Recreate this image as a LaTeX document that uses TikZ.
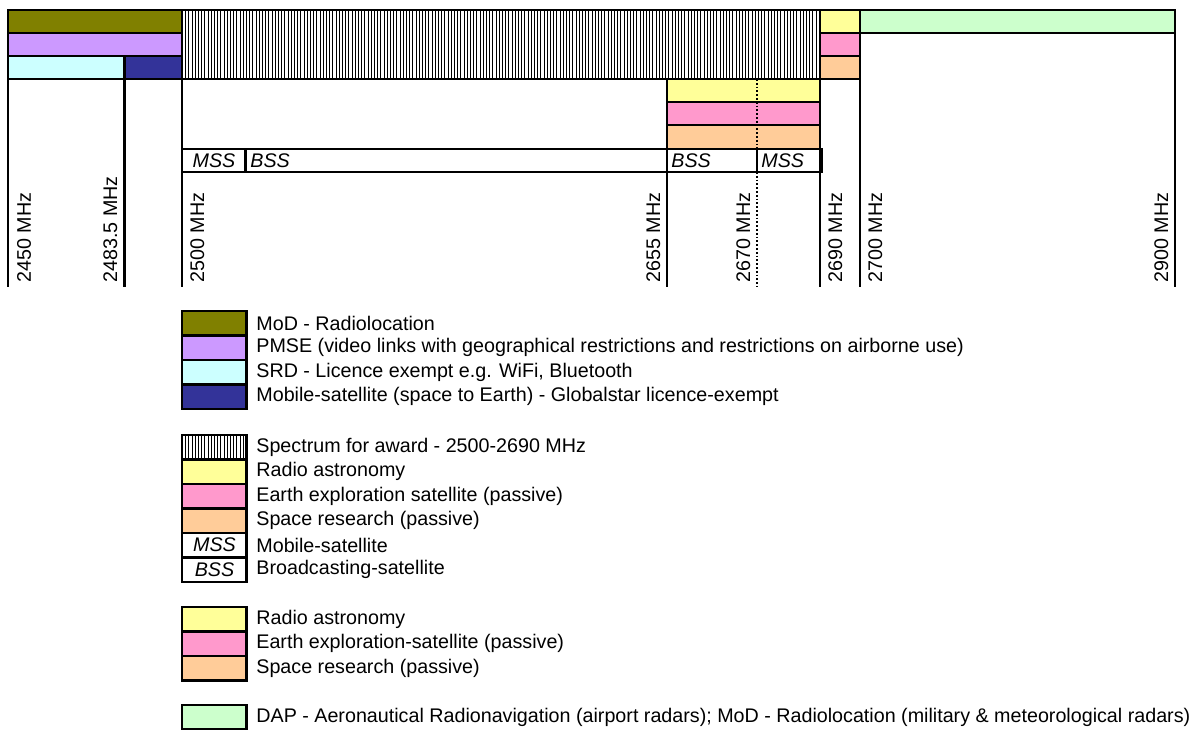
\documentclass[tikz,border=0pt]{standalone}
\usepackage{fontspec}
\setmainfont{Liberation Sans}
\usetikzlibrary{patterns.meta}
\definecolor{modolive}{HTML}{808000}
\definecolor{pmsepurple}{HTML}{CC99FF}
\definecolor{srdcyan}{HTML}{CCFFFF}
\definecolor{mssblue}{HTML}{333399}
\definecolor{rayellow}{HTML}{FFFF99}
\definecolor{eespink}{HTML}{FF99CC}
\definecolor{srorange}{HTML}{FFCC99}
\definecolor{dapgreen}{HTML}{CCFFCC}
\tikzset{
	band/.style    = {draw, line width=1.4pt},
	award/.style   = {band, pattern={Lines[angle=90,distance=1.6pt,line width=0.5pt]}},
	fine/.style    = {draw, line width=0.9pt},
	freq/.style    = {rotate=90, anchor=base west, inner sep=0pt,
		font=\fontsize{9.85}{11}\selectfont},
	legtext/.style = {anchor=west, inner sep=0pt, font=\fontsize{9.85}{11}\selectfont},
	svc/.style     = {inner sep=0pt, font=\fontsize{9.85}{11}\selectfont\itshape}
}

\begin{document}
\begin{tikzpicture}[x=0.5pt, y=-0.5pt]
\useasboundingbox (0,0) rectangle (1204,729);

% bands below 2500 MHz
\filldraw[band, fill=modolive] (8,10) rectangle (182,33);
\filldraw[band, fill=pmsepurple] (8,33) rectangle (182,56);
\filldraw[band, fill=srdcyan] (8,56) rectangle (124.5,79);
\filldraw[band, fill=mssblue] (124.5,56) rectangle (182,79);

% award band and the passive bands
\draw[award] (182,10) rectangle (820,79);
\filldraw[band, fill=rayellow] (667,79) rectangle (820,102);
\filldraw[band, fill=eespink] (667,102) rectangle (820,125);
\filldraw[band, fill=srorange] (667,125) rectangle (820,149);
\filldraw[band, fill=rayellow] (820,10) rectangle (860,33);
\filldraw[band, fill=eespink] (820,33) rectangle (860,56);
\filldraw[band, fill=srorange] (820,56) rectangle (860,79);
\filldraw[band, fill=dapgreen] (860,10) rectangle (1175,33);

% MSS / BSS row
\draw[band] (182,149) rectangle (822,172);
\draw[band] (245.7,149) -- (245.7,172);
\draw[band] (757,149) -- (757,172);
\node[svc] (mss1) at (214,161) {MSS};
\node[svc, anchor=west] (bss1) at (250,161) {BSS};
\node[svc, anchor=west] (bss2) at (671,161) {BSS};
\node[svc, anchor=west] (mss2) at (761,161) {MSS};

% frequency lines
\draw[band] (8,10) -- (8,287);
\draw[band] (124.5,56) -- (124.5,287);
\draw[band] (182,10) -- (182,79);
\draw[fine] (182,79) -- (182,287);
\draw[band] (667,79) -- (667,287);
\draw[fine, densely dotted] (757,79) -- (757,149);
\draw[fine, densely dotted] (757,172) -- (757,287);
\draw[band] (820,10) -- (820,287);
\draw[band] (860,10) -- (860,79);
\draw[fine] (860,79) -- (860,287);
\draw[band] (1175,10) -- (1175,287);

% frequency labels
\node[freq] (f2450) at (31,283) {2450 MHz};
\node[freq] (f2483) at (117,283) {2483.5 MHz};
\node[freq] (f2500) at (204,283) {2500 MHz};
\node[freq] (f2655) at (660,283) {2655 MHz};
\node[freq] (f2670) at (750,283) {2670 MHz};
\node[freq] (f2690) at (842,283) {2690 MHz};
\node[freq] (f2700) at (882,283) {2700 MHz};
\node[freq] (f2900) at (1168,283) {2900 MHz};

% legend, first group
\filldraw[band, fill=modolive] (182,311) rectangle (246.5,335.5);
\filldraw[band, fill=pmsepurple] (182,335.5) rectangle (246.5,360);
\filldraw[band, fill=srdcyan] (182,360) rectangle (246.5,384.5);
\filldraw[band, fill=mssblue] (182,384.5) rectangle (246.5,409);
\node[legtext] (lmod) at (256,323.2) {MoD - Radiolocation};
\node[legtext] (lpmse) at (256,347.7) {PMSE (video links with geographical restrictions and restrictions on airborne use)};
\node[legtext] (lsrd) at (256,372.2) {SRD - Licence exempt e.g. WiFi, Bluetooth};
\node[legtext] (lgls) at (256,396.7) {Mobile-satellite (space to Earth) - Globalstar licence-exempt};

% legend, second group
\draw[award] (182,435) rectangle (246.5,459.5);
\filldraw[band, fill=rayellow] (182,459.5) rectangle (246.5,484);
\filldraw[band, fill=eespink] (182,484) rectangle (246.5,508.5);
\filldraw[band, fill=srorange] (182,508.5) rectangle (246.5,533);
\draw[band] (182,533) rectangle (246.5,557.5);
\draw[band] (182,557.5) rectangle (246.5,582);
\node[svc] (lmssbox) at (214.5,545.2) {MSS};
\node[svc] (lbssbox) at (214.5,569.7) {BSS};
\node[legtext] (laward) at (256,447.2) {Spectrum for award - 2500-2690 MHz};
\node[legtext] (lra) at (256,471.7) {Radio astronomy};
\node[legtext] (lees) at (256,496.2) {Earth exploration satellite (passive)};
\node[legtext] (lsr) at (256,520.7) {Space research (passive)};
\node[legtext] (lmss) at (256,545.2) {Mobile-satellite};
\node[legtext] (lbss) at (256,569.7) {Broadcasting-satellite};

% legend, third group
\filldraw[band, fill=rayellow] (182,607) rectangle (246.5,631.5);
\filldraw[band, fill=eespink] (182,631.5) rectangle (246.5,656);
\filldraw[band, fill=srorange] (182,656) rectangle (246.5,680.5);
\node[legtext] (lra2) at (256,619.2) {Radio astronomy};
\node[legtext] (lees2) at (256,643.7) {Earth exploration-satellite (passive)};
\node[legtext] (lsr2) at (256,668.2) {Space research (passive)};

% legend, last group
\filldraw[band, fill=dapgreen] (182,705) rectangle (246.5,729.5);
\node[legtext] (ldap) at (256,717.2) {DAP - Aeronautical Radionavigation (airport radars); MoD - Radiolocation (military \& meteorological radars)};

\end{tikzpicture}
\end{document}
